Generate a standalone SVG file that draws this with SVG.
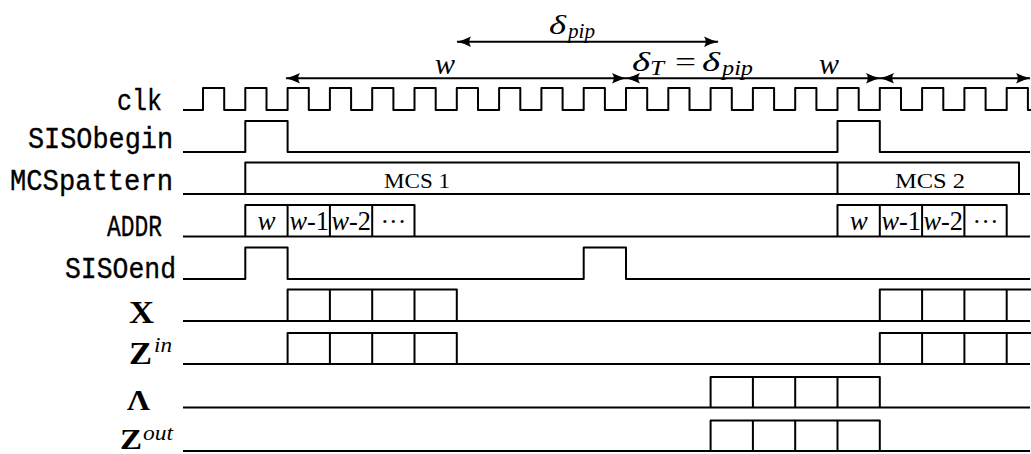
<svg xmlns="http://www.w3.org/2000/svg" width="1031" height="454" viewBox="0 0 1031 454">
<style>
.w{fill:none;stroke:#000;stroke-width:2;stroke-linejoin:round}
.lbl{font-family:"Liberation Mono","DejaVu Sans Mono",monospace;font-size:29px;fill:#000;stroke:#000;stroke-width:0.35}
.mi{font-family:"Liberation Serif",serif;font-style:italic;fill:#000}
.rm{font-family:"Liberation Serif",serif;fill:#000}
.bf{font-family:"Liberation Serif",serif;font-weight:bold;fill:#000}
.arr{fill:none;stroke:#000;stroke-width:2;marker-start:url(#ah);marker-end:url(#ah)}
</style>
<defs>
<marker id="ah" markerWidth="16" markerHeight="12" refX="15" refY="6" orient="auto-start-reverse" markerUnits="userSpaceOnUse" viewBox="0 0 16 12">
<path d="M15.5,6 Q8,4.4 1,0.8 Q4.5,6 1,11.2 Q8,7.6 15.5,6 Z" fill="#000"/>
</marker>
</defs>
<rect width="1031" height="454" fill="#fff"/>

<g id="clk">
<text class="lbl" x="117" y="109.5" textLength="45" lengthAdjust="spacingAndGlyphs">clk</text>
<path class="w" d="M183,110 H203 V88 H224.2 V110 H245.3 V88 H266.5 V110 H287.6 V88 H308.8 V110 H329.9 V88 H351.1 V110 H372.2 V88 H393.4 V110 H414.5 V88 H435.7 V110 H456.8 V88 H478 V110 H499.1 V88 H520.3 V110 H541.4 V88 H562.6 V110 H583.7 V88 H604.9 V110 H626 V88 H647.2 V110 H668.3 V88 H689.5 V110 H710.6 V88 H731.8 V110 H752.9 V88 H774.1 V110 H795.2 V88 H816.4 V110 H837.5 V88 H858.7 V110 H879.8 V88 H901 V110 H922.1 V88 H943.3 V110 H964.4 V88 H985.6 V110 H1006.7 V88 H1027.9 V110 H1031"/>
</g>

<g id="SISObegin">
<text class="lbl" x="28" y="148" textLength="145" lengthAdjust="spacingAndGlyphs">SISObegin</text>
<path class="w" d="M183,152 H245.3 V121 H287.6 V152 H837.5 V121 H879.8 V152 H1030"/>
</g>

<g id="MCSpattern">
<text class="lbl" x="10" y="190" textLength="163" lengthAdjust="spacingAndGlyphs">MCSpattern</text>
<path class="w" d="M183,194 H1030 M245.3,194 V162.5 H1019 V194 M837.5,194 V162.5"/>
<text class="rm" x="384" y="188" font-size="21" textLength="66" lengthAdjust="spacingAndGlyphs">MCS 1</text>
<text class="rm" x="895" y="188" font-size="21" textLength="70" lengthAdjust="spacingAndGlyphs">MCS 2</text>
</g>

<g id="ADDR">
<text class="lbl" x="107" y="235.5" textLength="55" lengthAdjust="spacingAndGlyphs">ADDR</text>
<path class="w" d="M183,236.5 H1030 M245.3,236.5 V205 H414.5 V236.5 M287.6,205 V236.5 M329.9,205 V236.5 M372.2,205 V236.5 M837.5,236.5 V205 H1006.7 V236.5 M879.8,205 V236.5 M922.1,205 V236.5 M964.4,205 V236.5"/>
<text class="mi" x="266.5" y="230" font-size="27" text-anchor="middle">w</text>
<text class="mi" x="289.5" y="230" font-size="27" textLength="39.5" lengthAdjust="spacingAndGlyphs">w<tspan class="rm" font-style="normal">-1</tspan></text>
<text class="mi" x="331.5" y="230" font-size="27" textLength="39.5" lengthAdjust="spacingAndGlyphs">w<tspan class="rm" font-style="normal">-2</tspan></text>
<text class="rm" x="393.4" y="230" font-size="26" text-anchor="middle">···</text>
<text class="mi" x="858.7" y="230" font-size="27" text-anchor="middle">w</text>
<text class="mi" x="881.5" y="230" font-size="27" textLength="39.5" lengthAdjust="spacingAndGlyphs">w<tspan class="rm" font-style="normal">-1</tspan></text>
<text class="mi" x="923.5" y="230" font-size="27" textLength="39.5" lengthAdjust="spacingAndGlyphs">w<tspan class="rm" font-style="normal">-2</tspan></text>
<text class="rm" x="985.6" y="230" font-size="26" text-anchor="middle">···</text>
</g>

<g id="SISOend">
<text class="lbl" x="65" y="277.5" textLength="111" lengthAdjust="spacingAndGlyphs">SISOend</text>
<path class="w" d="M183,279 H245.3 V247.5 H287.6 V279 H583.7 V247.5 H626 V279 H1030"/>
</g>

<g id="X">
<text class="bf" x="129" y="322.5" font-size="32" textLength="25" lengthAdjust="spacingAndGlyphs">X</text>
<path class="w" d="M183,321 H1030 M287.6,321 V289.5 H456.8 V321 M329.9,289.5 V321 M372.2,289.5 V321 M414.5,289.5 V321 M879.8,321 V289.5 H1031 M922.1,289.5 V321 M964.4,289.5 V321 M1006.7,289.5 V321"/>
</g>

<g id="Zin">
<text class="bf" x="129" y="363.5" font-size="32" textLength="23" lengthAdjust="spacingAndGlyphs">Z</text>
<text class="mi" x="154" y="352" font-size="20" textLength="18" lengthAdjust="spacingAndGlyphs">in</text>
<path class="w" d="M183,364 H1030 M287.6,364 V333 H456.8 V364 M329.9,333 V364 M372.2,333 V364 M414.5,333 V364 M879.8,364 V333 H1031 M922.1,333 V364 M964.4,333 V364 M1006.7,333 V364"/>
</g>

<g id="Lambda">
<text class="bf" x="127" y="410" font-size="29" textLength="23" lengthAdjust="spacingAndGlyphs">Λ</text>
<path class="w" d="M183,407.5 H1030 M710.6,407.5 V377 H879.8 V407.5 M752.9,377 V407.5 M795.2,377 V407.5 M837.5,377 V407.5"/>
</g>

<g id="Zout">
<text class="bf" x="120" y="449" font-size="30" textLength="22" lengthAdjust="spacingAndGlyphs">Z</text>
<text class="mi" x="143" y="440" font-size="20" textLength="30" lengthAdjust="spacingAndGlyphs">out</text>
<path class="w" d="M183,451 H1030 M710.6,451 V420.5 H879.8 V451 M752.9,420.5 V451 M795.2,420.5 V451 M837.5,420.5 V451"/>
</g>

<g id="connectors">
<line class="arr" x1="457" y1="41.7" x2="718" y2="41.7"/>
<line class="arr" x1="286" y1="78.3" x2="626" y2="78.3"/>
<line class="arr" x1="626" y1="78.3" x2="880" y2="78.3"/>
<line class="arr" x1="880" y1="78.3" x2="1030" y2="78.3"/>
<text class="mi" x="549" y="34" font-size="28" textLength="17" lengthAdjust="spacingAndGlyphs">δ</text>
<text class="mi" x="568" y="38" font-size="20" textLength="27" lengthAdjust="spacingAndGlyphs">pip</text>
<text class="mi" x="435" y="74" font-size="30">w</text>
<text class="mi" x="632" y="71" font-size="28" textLength="18" lengthAdjust="spacingAndGlyphs">δ</text>
<text class="mi" x="650" y="75" font-size="20" textLength="14" lengthAdjust="spacingAndGlyphs">T</text>
<text class="rm" x="675" y="71" font-size="28" textLength="21" lengthAdjust="spacingAndGlyphs">=</text>
<text class="mi" x="702" y="71" font-size="28" textLength="18" lengthAdjust="spacingAndGlyphs">δ</text>
<text class="mi" x="722" y="75" font-size="20" textLength="31" lengthAdjust="spacingAndGlyphs">pip</text>
<text class="mi" x="819" y="74" font-size="30">w</text>
</g>
</svg>
